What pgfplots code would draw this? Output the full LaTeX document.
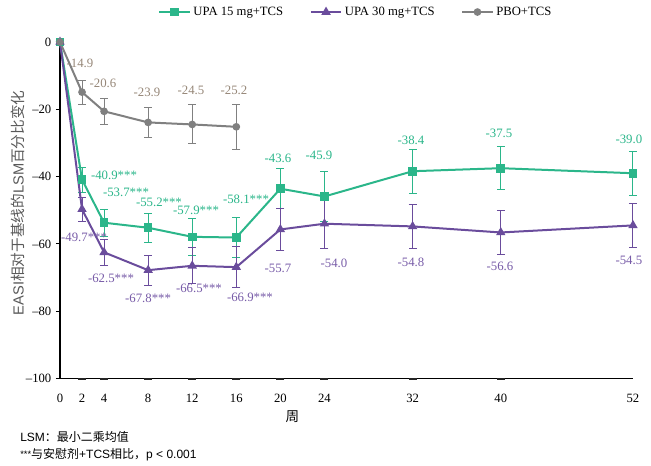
\documentclass[border=0pt]{standalone}
\usepackage{fontspec}
\setmainfont{Liberation Serif}
\newfontfamily\cjk{Noto Sans CJK SC}
\newfontfamily\arial{Liberation Sans}
\usepackage{pgfplots}
\pgfplotsset{compat=1.18}
\definecolor{cg}{RGB}{43,182,138}
\definecolor{cp}{RGB}{106,76,156}
\definecolor{cgr}{RGB}{128,128,128}
\definecolor{cpl}{RGB}{120,92,168}
\definecolor{cbr}{RGB}{150,135,120}
\definecolor{cyl}{RGB}{89,89,89}
\begin{document}
\begin{tikzpicture}
\path[use as bounding box] (-45pt,-65.6pt) rectangle (443.25pt,283.9pt);
\begin{axis}[
  scale only axis, width=429.75pt, height=252.4pt,
  xmin=0, xmax=52, ymin=-100, ymax=0,
  axis x line=bottom, axis y line=left,
  axis line style={-, line width=0.9pt, black},
  clip=false,
  xtick={0,2,4,8,12,16,20,24,32,40,52},
  xticklabels={\raisebox{3.5pt}{0},2,4,8,12,16,20,24,32,40,\raisebox{4pt}{52}},
  ytick={-100,-80,-60,-40,-20,0},
  yticklabels={--100,--80,--60,--40,--20,0},
  x tick style={draw=none},
  y tick style={black, line width=0.8pt},
  tick align=outside, major tick length=3pt,
  tick label style={font=\fontsize{9.5}{11}\selectfont},
  xticklabel style={yshift=-5pt},
  legend columns=3,
  legend style={at={(rel axis cs:0.517,1.089)}, anchor=center, draw=none, fill=none,
    font=\fontsize{9.5}{11}\selectfont,
    /tikz/every even column/.append style={column sep=18pt}},
  legend image code/.code={\draw[mark repeat=2,mark phase=2] plot coordinates {(0cm,0cm)(0.4cm,0cm)(0.8cm,0cm)};},
  every axis plot/.append style={line width=1.5pt},
  error bars/error bar style={line width=0.75pt},
  error bars/error mark options={rotate=90, mark size=3pt, line width=0.75pt},
]
\addplot[color=cg, mark=square*, mark size=2.5pt, mark options={solid},
  error bars/.cd, y dir=both, y explicit]
  coordinates {
  (0,0) +- (0,0)
  (2,-40.9) +- (0,3.7)
  (4,-53.7) +- (0,4.0)
  (8,-55.2) +- (0,4.3)
  (12,-57.9) +- (0,5.5)
  (16,-58.1) +- (0,6.0)
  (20,-43.6) +- (0,6.0)
  (24,-45.9) +- (0,7.3)
  (32,-38.4) +- (0,6.5)
  (40,-37.5) +- (0,6.3)
  (52,-39.0) +- (0,6.5)
  };
\addlegendentry{UPA 15 mg+TCS}
\addplot[color=cp, mark=triangle*, mark size=2.6pt, mark options={solid},
  error bars/.cd, y dir=both, y explicit]
  coordinates {
  (0,0) +- (0,0)
  (2,-49.7) +- (0,3.6)
  (4,-62.5) +- (0,3.9)
  (8,-67.8) +- (0,4.5)
  (12,-66.5) +- (0,5.4)
  (16,-66.9) +- (0,6.1)
  (20,-55.7) +- (0,6.3)
  (24,-54.0) +- (0,7.4)
  (32,-54.8) +- (0,6.6)
  (40,-56.6) +- (0,6.4)
  (52,-54.5) +- (0,6.5)
  };
\addlegendentry{UPA 30 mg+TCS}
\addplot[color=cgr, mark=*, mark size=2.1pt, mark options={solid},
  error bars/.cd, y dir=both, y explicit]
  coordinates {
  (0,0) +- (0,0)
  (2,-14.9) +- (0,3.6)
  (4,-20.6) +- (0,3.9)
  (8,-23.9) +- (0,4.5)
  (12,-24.5) +- (0,5.8)
  (16,-25.2) +- (0,6.7)
  };
\addlegendentry{PBO+TCS}
\addplot[forget plot, only marks, mark=-, mark size=3pt, line width=1.5pt, black!85]
  coordinates {(2,-100)(4,-100)(8,-100)(12,-100)(16,-100)(20,-100)(24,-100)(32,-100)(40,-100)};

\begin{scope}[every node/.style={font=\fontsize{9.6}{11}\selectfont, inner sep=0pt, anchor=center}]
% PBO labels
\node[text=cbr] at (axis cs:1.81,-6.25) {-14.9};
\node[text=cbr] at (axis cs:3.90,-12.2) {-20.6};
\node[text=cbr] at (axis cs:7.89,-14.9) {-23.9};
\node[text=cbr] at (axis cs:11.89,-14.3) {-24.5};
\node[text=cbr] at (axis cs:15.79,-14.3) {-25.2};
% UPA 15 labels
\node[text=cg] at (axis cs:4.90,-39.6) {-40.9***};
\node[text=cg] at (axis cs:5.99,-44.6) {-53.7***};
\node[text=cg] at (axis cs:8.98,-47.6) {-55.2***};
\node[text=cg] at (axis cs:12.34,-50.0) {-57.9***};
\node[text=cg] at (axis cs:16.88,-46.7) {-58.1***};
\node[text=cg] at (axis cs:19.78,-34.5) {-43.6};
\node[text=cg] at (axis cs:23.50,-33.6) {-45.9};
\node[text=cg] at (axis cs:31.85,-29.2) {-38.4};
\node[text=cg] at (axis cs:39.84,-27.1) {-37.5};
\node[text=cg] at (axis cs:51.63,-28.9) {-39.0};
% UPA 30 labels
\node[text=cpl] at (axis cs:2.18,-58.0) {-49.7***};
\node[text=cpl] at (axis cs:4.63,-70.2) {-62.5***};
\node[text=cpl] at (axis cs:7.99,-76.2) {-67.8***};
\node[text=cpl] at (axis cs:12.61,-73.2) {-66.5***};
\node[text=cpl] at (axis cs:17.24,-75.9) {-66.9***};
\node[text=cpl] at (axis cs:19.78,-67.3) {-55.7};
\node[text=cpl] at (axis cs:24.86,-65.8) {-54.0};
\node[text=cpl] at (axis cs:31.85,-65.5) {-54.8};
\node[text=cpl] at (axis cs:39.93,-66.7) {-56.6};
\node[text=cpl] at (axis cs:51.63,-64.9) {-54.5};
\end{scope}
% axis title and notes
\node[rotate=90, text=cyl, inner sep=0pt, font=\fontsize{11}{13}\selectfont]
  at ([xshift=-31.5pt]axis cs:0,-47.8) {{\arial EASI}{\cjk 相对于基线的}{\arial LSM}{\cjk 百分比变化}};
\node[inner sep=0pt, font=\cjk\fontsize{10.2}{12}\selectfont]
  at ([yshift=-28.9pt]axis cs:21.1,-100) {周};
\node[inner sep=0pt, anchor=west, font=\fontsize{9}{11}\selectfont]
  at ([xshift=-30pt, yshift=-43.9pt]axis cs:0,-100) {{\arial LSM}{\cjk ：最小二乘均值}};
\node[inner sep=0pt, anchor=west, font=\fontsize{9}{11}\selectfont]
  at ([xshift=-30pt, yshift=-57.4pt]axis cs:0,-100) {{\arial\raisebox{1pt}{\scriptsize ***}}{\cjk 与安慰剂}{\arial +TCS}{\cjk 相比，}{\arial p < 0.001}};
\end{axis}
\end{tikzpicture}
\end{document}
